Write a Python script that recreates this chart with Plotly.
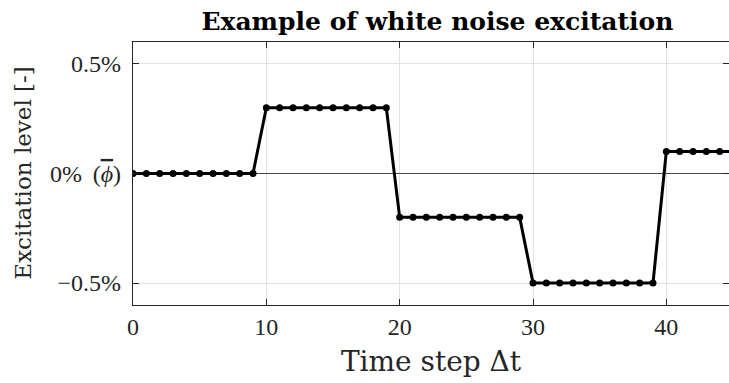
import plotly.graph_objects as go

# Excitation level (in %) held constant over blocks of ten time steps
time_step = list(range(46))
excitation = [
    0.0, 0.0, 0.0, 0.0, 0.0, 0.0, 0.0, 0.0, 0.0, 0.0,
    0.3, 0.3, 0.3, 0.3, 0.3, 0.3, 0.3, 0.3, 0.3, 0.3,
    -0.2, -0.2, -0.2, -0.2, -0.2, -0.2, -0.2, -0.2, -0.2, -0.2,
    -0.5, -0.5, -0.5, -0.5, -0.5, -0.5, -0.5, -0.5, -0.5, -0.5,
    0.1, 0.1, 0.1, 0.1, 0.1, 0.1,
]

x_ticks = [0, 10, 20, 30, 40]
y_ticks = [-0.5, 0.0, 0.5]
y_tick_labels = [
    "\u22120.5%",
    "0%\u2009 (<span style='text-decoration:overline'><i>\u03d5</i></span>)",
    "0.5%",
]

tick_font = dict(family="Liberation Serif", size=24, color="#262626")
axis_color = "#262626"
grid_color = "#e3e3e3"

fig = go.Figure()
fig.add_trace(go.Scatter(
    x=time_step,
    y=excitation,
    mode="lines+markers",
    line=dict(color="black", width=3),
    marker=dict(color="black", size=7),
    showlegend=False,
))

fig.update_layout(
    width=729,
    height=383,
    margin=dict(l=133, r=0, t=42, b=78),
    paper_bgcolor="white",
    plot_bgcolor="white",
    title=dict(
        text="<b>Example of white noise excitation</b>",
        font=dict(family="DejaVu Serif", size=25, color="black"),
        x=0.6, xanchor="center",
        y=0.944, yanchor="middle",
    ),
)

# y-axis title placed as a rotated annotation left of the tick labels
fig.add_annotation(
    text="Excitation level [-]",
    xref="paper", yref="paper",
    x=-0.186, y=0.5,
    xanchor="center", yanchor="middle",
    textangle=-90,
    showarrow=False,
    font=dict(family="DejaVu Serif", size=23, color="#262626"),
)

fig.update_xaxes(
    range=[0, 44.7],
    tickvals=x_ticks,
    ticktext=[str(v) for v in x_ticks],
    tickfont=tick_font,
    ticks="inside", ticklen=6, tickcolor=axis_color,
    showline=True, linecolor=axis_color, linewidth=1.2, mirror="ticks",
    showgrid=True, gridcolor=grid_color, gridwidth=1,
    zeroline=False,
    title=dict(text="Time step \u0394t",
               font=dict(family="DejaVu Serif", size=28, color="#262626"),
               standoff=12),
)

fig.update_yaxes(
    range=[-0.6, 0.6],
    tickvals=y_ticks,
    ticktext=y_tick_labels,
    tickfont=tick_font,
    ticklabelstandoff=6,
    ticks="inside", ticklen=6, tickcolor=axis_color,
    showline=True, linecolor=axis_color, linewidth=1.2, mirror="ticks",
    showgrid=True, gridcolor=grid_color, gridwidth=1,
    zeroline=True, zerolinecolor="#4a4a4a", zerolinewidth=1,
)

fig.write_html("out.html")
